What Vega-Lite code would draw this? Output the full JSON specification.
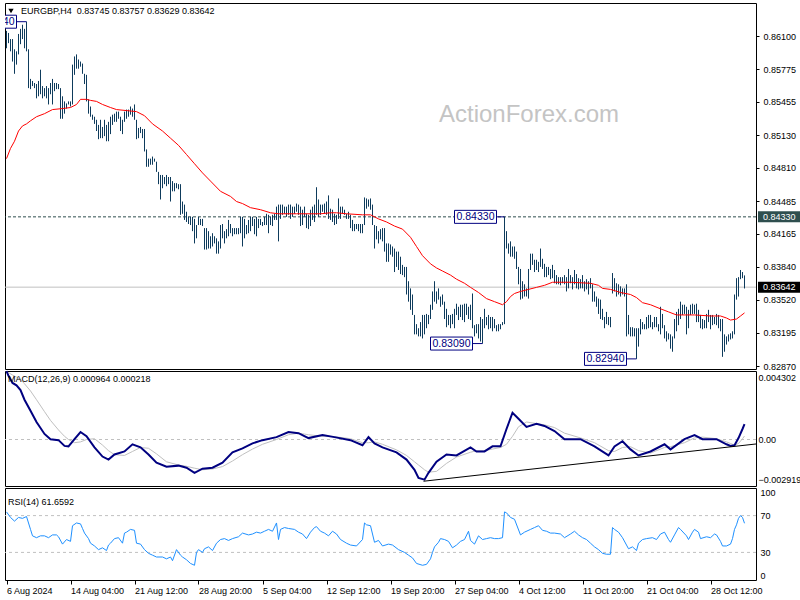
{
"$schema": "https://vega.github.io/schema/vega-lite/v6.json",
"background": "#ffffff",
"padding": {"left": 2, "top": 2, "right": 0, "bottom": 0},
"spacing": 2,
"bounds": "flush",
"config": {
  "view": {"stroke": "#000000", "strokeWidth": 1},
  "axis": {"labelFont": "Liberation Sans", "labelFontSize": 9, "labelColor": "#000000", "tickColor": "#000000", "tickSize": 3, "domain": false, "grid": false, "labelPadding": 4},
  "text": {"font": "Liberation Sans"}
},
"vconcat": [
{
  "width": 751, "height": 366,
  "resolve": {"axis": {"x": "independent", "y": "independent"}},
  "layer": [
    {"data": {"values": [{"lv": 0.83642}]}, "mark": {"type": "rule", "color": "#c0c0c0", "strokeWidth": 1},
     "encoding": {"y": {"field": "lv", "type": "quantitative", "axis": null}}},
    {"data": {"values": [{"lv": 0.8433}]}, "mark": {"type": "rule", "color": "#2f4f4f", "strokeWidth": 1, "strokeDash": [3, 2]},
     "encoding": {"y": {"field": "lv", "type": "quantitative", "axis": null}}},
    {"data": {"values": [{}]}, "mark": {"type": "text", "fontSize": 24, "color": "#c4c4c4", "align": "center", "baseline": "alphabetic", "font": "Liberation Sans"},
     "encoding": {"x": {"datum": 261.25, "type": "quantitative", "axis": null}, "y": {"datum": 0.85258, "type": "quantitative", "axis": null}, "text": {"value": "ActionForex.com"}}},
    {"data": {"values": "i,h,l\n0,0.8615,0.8598\n1,0.8613,0.8603\n2,0.8607,0.8595\n3,0.8607,0.8585\n4,0.8597,0.8573\n5,0.8595,0.8582\n6,0.8612,0.8592\n7,0.8617,0.8602\n8,0.8621,0.8607\n9,0.8617,0.8598\n10,0.8624,0.8595\n11,0.8597,0.8559\n12,0.8568,0.8558\n13,0.8566,0.8561\n14,0.8564,0.8559\n15,0.8563,0.8549\n16,0.8566,0.8551\n17,0.8577,0.8553\n18,0.8561,0.8549\n19,0.8559,0.8551\n20,0.8561,0.8549\n21,0.8559,0.8543\n22,0.8564,0.8553\n23,0.8568,0.8543\n24,0.8564,0.8556\n25,0.8564,0.8558\n26,0.8563,0.8558\n27,0.8559,0.8529\n28,0.8551,0.8529\n29,0.8546,0.8534\n30,0.8544,0.8539\n31,0.8546,0.8543\n32,0.8546,0.8541\n33,0.8582,0.8543\n34,0.8590,0.8572\n35,0.8592,0.8578\n36,0.8587,0.8578\n37,0.8585,0.8580\n38,0.8583,0.8573\n39,0.8573,0.8563\n40,0.8572,0.8546\n41,0.8548,0.8534\n42,0.8541,0.8531\n43,0.8533,0.8528\n44,0.8531,0.8524\n45,0.8528,0.8517\n46,0.8523,0.8509\n47,0.8528,0.8510\n48,0.8521,0.8510\n49,0.8528,0.8512\n50,0.8523,0.8507\n51,0.8526,0.8507\n52,0.8531,0.8514\n53,0.8533,0.8523\n54,0.8534,0.8526\n55,0.8536,0.8526\n56,0.8536,0.8529\n57,0.8531,0.8517\n58,0.8528,0.8514\n59,0.8536,0.8526\n60,0.8538,0.8529\n61,0.8538,0.8531\n62,0.8541,0.8533\n63,0.8539,0.8531\n64,0.8543,0.8528\n65,0.8528,0.8509\n66,0.8520,0.8510\n67,0.8521,0.8515\n68,0.8519,0.8510\n69,0.8519,0.8497\n70,0.8499,0.8482\n71,0.8490,0.8482\n72,0.8490,0.8484\n73,0.8492,0.8484\n74,0.8490,0.8487\n75,0.8487,0.8477\n76,0.8477,0.8465\n77,0.8474,0.8450\n78,0.8474,0.8461\n79,0.8472,0.8465\n80,0.8474,0.8463\n81,0.8472,0.8465\n82,0.8472,0.8448\n83,0.8468,0.8458\n84,0.8466,0.8458\n85,0.8466,0.8461\n86,0.8465,0.8460\n87,0.8465,0.8435\n88,0.8448,0.8436\n89,0.8445,0.8430\n90,0.8438,0.8428\n91,0.8433,0.8426\n92,0.8433,0.8425\n93,0.8433,0.8419\n94,0.8431,0.8407\n95,0.8425,0.8412\n96,0.8433,0.8425\n97,0.8431,0.8425\n98,0.8431,0.8424\n99,0.8422,0.8401\n100,0.8422,0.8401\n101,0.8419,0.8402\n102,0.8414,0.8402\n103,0.8417,0.8404\n104,0.8414,0.8407\n105,0.8412,0.8397\n106,0.8409,0.8397\n107,0.8425,0.8402\n108,0.8426,0.8412\n109,0.8419,0.8407\n110,0.8421,0.8412\n111,0.8430,0.8414\n112,0.8426,0.8417\n113,0.8422,0.8414\n114,0.8422,0.8416\n115,0.8422,0.8416\n116,0.8422,0.8416\n117,0.8433,0.8417\n118,0.8433,0.8404\n119,0.8431,0.8412\n120,0.8425,0.8416\n121,0.8430,0.8417\n122,0.8433,0.8419\n123,0.8433,0.8424\n124,0.8431,0.8416\n125,0.8433,0.8414\n126,0.8431,0.8422\n127,0.8431,0.8425\n128,0.8428,0.8424\n129,0.8433,0.8425\n130,0.8436,0.8425\n131,0.8435,0.8417\n132,0.8433,0.8425\n133,0.8435,0.8424\n134,0.8436,0.8430\n135,0.8443,0.8430\n136,0.8445,0.8409\n137,0.8445,0.8431\n138,0.8445,0.8435\n139,0.8443,0.8436\n140,0.8443,0.8433\n141,0.8445,0.8435\n142,0.8445,0.8431\n143,0.8443,0.8433\n144,0.8443,0.8436\n145,0.8446,0.8438\n146,0.8445,0.8435\n147,0.8443,0.8424\n148,0.8440,0.8425\n149,0.8443,0.8433\n150,0.8436,0.8422\n151,0.8435,0.8421\n152,0.8440,0.8424\n153,0.8443,0.8430\n154,0.8445,0.8428\n155,0.8462,0.8435\n156,0.8450,0.8433\n157,0.8445,0.8435\n158,0.8445,0.8438\n159,0.8446,0.8436\n160,0.8448,0.8435\n161,0.8454,0.8431\n162,0.8441,0.8430\n163,0.8440,0.8428\n164,0.8436,0.8425\n165,0.8435,0.8426\n166,0.8451,0.8431\n167,0.8443,0.8431\n168,0.8443,0.8436\n169,0.8440,0.8435\n170,0.8436,0.8431\n171,0.8438,0.8431\n172,0.8435,0.8422\n173,0.8430,0.8419\n174,0.8426,0.8419\n175,0.8426,0.8421\n176,0.8426,0.8419\n177,0.8426,0.8417\n178,0.8426,0.8417\n179,0.8452,0.8425\n180,0.8451,0.8441\n181,0.8450,0.8443\n182,0.8451,0.8440\n183,0.8445,0.8425\n184,0.8425,0.8402\n185,0.8424,0.8411\n186,0.8419,0.8407\n187,0.8421,0.8411\n188,0.8422,0.8409\n189,0.8422,0.8399\n190,0.8407,0.8389\n191,0.8407,0.8389\n192,0.8406,0.8396\n193,0.8404,0.8394\n194,0.8402,0.8379\n195,0.8399,0.8384\n196,0.8399,0.8381\n197,0.8394,0.8377\n198,0.8386,0.8376\n199,0.8384,0.8374\n200,0.8384,0.8357\n201,0.8370,0.8350\n202,0.8363,0.8342\n203,0.8357,0.8337\n204,0.8337,0.8318\n205,0.8328,0.8318\n206,0.8324,0.8316\n207,0.8330,0.8316\n208,0.8337,0.8314\n209,0.8337,0.8318\n210,0.8338,0.8324\n211,0.8337,0.8328\n212,0.8347,0.8333\n213,0.8360,0.8342\n214,0.8370,0.8350\n215,0.8360,0.8348\n216,0.8363,0.8352\n217,0.8355,0.8345\n218,0.8357,0.8347\n219,0.8350,0.8333\n220,0.8343,0.8325\n221,0.8337,0.8327\n222,0.8337,0.8324\n223,0.8338,0.8328\n224,0.8343,0.8324\n225,0.8348,0.8337\n226,0.8345,0.8332\n227,0.8347,0.8335\n228,0.8347,0.8332\n229,0.8348,0.8330\n230,0.8348,0.8337\n231,0.8345,0.8333\n232,0.8347,0.8332\n233,0.8358,0.8324\n234,0.8327,0.8316\n235,0.8328,0.8319\n236,0.8328,0.8314\n237,0.8335,0.8311\n238,0.8333,0.8309\n239,0.8343,0.8324\n240,0.8335,0.8327\n241,0.8337,0.8323\n242,0.8335,0.8324\n243,0.8335,0.8321\n244,0.8333,0.8324\n245,0.8327,0.8321\n246,0.8328,0.8321\n247,0.8328,0.8323\n248,0.8330,0.8327\n249,0.8433,0.8328\n250,0.8419,0.8402\n251,0.8407,0.8397\n252,0.8409,0.8394\n253,0.8404,0.8394\n254,0.8404,0.8392\n255,0.8399,0.8382\n256,0.8384,0.8367\n257,0.8382,0.8352\n258,0.8370,0.8353\n259,0.8367,0.8355\n260,0.8363,0.8355\n261,0.8382,0.8353\n262,0.8397,0.8381\n263,0.8397,0.8386\n264,0.8391,0.8379\n265,0.8391,0.8381\n266,0.8389,0.8379\n267,0.8402,0.8384\n268,0.8392,0.8382\n269,0.8387,0.8374\n270,0.8384,0.8374\n271,0.8384,0.8376\n272,0.8382,0.8372\n273,0.8386,0.8373\n274,0.8381,0.8368\n275,0.8376,0.8367\n276,0.8374,0.8367\n277,0.8374,0.8366\n278,0.8374,0.8368\n279,0.8376,0.8367\n280,0.8374,0.8360\n281,0.8382,0.8363\n282,0.8376,0.8368\n283,0.8374,0.8362\n284,0.8381,0.8367\n285,0.8377,0.8363\n286,0.8373,0.8362\n287,0.8372,0.8363\n288,0.8376,0.8363\n289,0.8370,0.8360\n290,0.8372,0.8362\n291,0.8370,0.8357\n292,0.8373,0.8363\n293,0.8367,0.8350\n294,0.8360,0.8350\n295,0.8355,0.8345\n296,0.8353,0.8338\n297,0.8352,0.8333\n298,0.8343,0.8332\n299,0.8335,0.8324\n300,0.8340,0.8328\n301,0.8335,0.8327\n302,0.8335,0.8325\n303,0.8378,0.8358\n304,0.8373,0.8360\n305,0.8368,0.8355\n306,0.8367,0.8357\n307,0.8365,0.8355\n308,0.8363,0.8357\n309,0.8363,0.8355\n310,0.8367,0.8316\n311,0.8337,0.8318\n312,0.8325,0.8316\n313,0.8325,0.8316\n314,0.8324,0.8316\n315,0.8324,0.8294\n316,0.8324,0.8306\n317,0.8333,0.8318\n318,0.8330,0.8323\n319,0.8328,0.8323\n320,0.8335,0.8323\n321,0.8337,0.8324\n322,0.8337,0.8325\n323,0.8330,0.8323\n324,0.8335,0.8325\n325,0.8335,0.8325\n326,0.8328,0.8321\n327,0.8345,0.8318\n328,0.8338,0.8324\n329,0.8327,0.8314\n330,0.8321,0.8311\n331,0.8319,0.8313\n332,0.8318,0.8304\n333,0.8316,0.8301\n334,0.8333,0.8314\n335,0.8340,0.8321\n336,0.8343,0.8327\n337,0.8350,0.8333\n338,0.8347,0.8337\n339,0.8347,0.8338\n340,0.8345,0.8318\n341,0.8342,0.8324\n342,0.8347,0.8337\n343,0.8348,0.8338\n344,0.8347,0.8338\n345,0.8348,0.8330\n346,0.8342,0.8330\n347,0.8337,0.8324\n348,0.8333,0.8323\n349,0.8332,0.8324\n350,0.8338,0.8324\n351,0.8342,0.8330\n352,0.8337,0.8323\n353,0.8337,0.8327\n354,0.8335,0.8328\n355,0.8338,0.8327\n356,0.8337,0.8324\n357,0.8333,0.8321\n358,0.8333,0.8296\n359,0.8318,0.8301\n360,0.8316,0.8308\n361,0.8318,0.8311\n362,0.8319,0.8313\n363,0.8321,0.8314\n364,0.8357,0.8318\n365,0.8373,0.8352\n366,0.8374,0.8355\n367,0.8381,0.8372\n368,0.8379,0.8373\n369,0.83757,0.83629", "format": {"type": "csv", "parse": {"i": "number", "h": "number", "l": "number"}}},
     "mark": {"type": "rule", "color": "#0e3b5c", "strokeWidth": 1},
     "encoding": {
       "x": {"field": "i", "type": "quantitative", "scale": {"domain": [-0.75, 374.75], "nice": false, "zero": false}, "axis": null},
       "y": {"field": "l", "type": "quantitative", "scale": {"domain": [0.82841, 0.86423], "nice": false, "zero": false},
             "axis": {"orient": "right", "values": [0.861, 0.85775, 0.85455, 0.8513, 0.8481, 0.84485, 0.84165, 0.8384, 0.8352, 0.83195, 0.8287], "format": ".5f", "tickSize": 3, "labelPadding": 4, "title": null}},
       "y2": {"field": "h"}
     }},
    {"data": {"values": "i,m\n0,0.8490\n2,0.8500\n4,0.8507\n6,0.8517\n8,0.8522\n10,0.8524\n12,0.8527\n15,0.8531\n19,0.8534\n23,0.8538\n28,0.8539\n32,0.8540\n35,0.8543\n37,0.8548\n40,0.8548\n42,0.8547\n45,0.8546\n48,0.8543\n52,0.8540\n55,0.8538\n60,0.8537\n65,0.8536\n69,0.8532\n73,0.8524\n78,0.8517\n82,0.8510\n86,0.8503\n90,0.8494\n94,0.8485\n98,0.8476\n102,0.8468\n107,0.8458\n112,0.8453\n115,0.8448\n118,0.8446\n122,0.8442\n127,0.8440\n132,0.8437\n136,0.8436\n145,0.8436\n157,0.8436\n162,0.8437\n165,0.8437\n170,0.8436\n178,0.8435\n182,0.8435\n186,0.8431\n190,0.8428\n194,0.8424\n198,0.8421\n202,0.8413\n205,0.8404\n208,0.8395\n212,0.8387\n215,0.8383\n218,0.8380\n222,0.8376\n225,0.8372\n229,0.8368\n232,0.8364\n236,0.8359\n240,0.8353\n244,0.8350\n248,0.8347\n250,0.8350\n252,0.8355\n254,0.8358\n257,0.8360\n261,0.8362\n265,0.8364\n269,0.8366\n273,0.8369\n282,0.8369\n292,0.8368\n296,0.8366\n298,0.8363\n302,0.8362\n307,0.8359\n312,0.8357\n315,0.8354\n318,0.8349\n322,0.8347\n327,0.8343\n331,0.8340\n335,0.8337\n344,0.8337\n352,0.8336\n357,0.8336\n360,0.8334\n362,0.8332\n365,0.8333\n367,0.8336\n369,0.8339", "format": {"type": "csv", "parse": {"i": "number", "m": "number"}}},
     "mark": {"type": "line", "color": "#ff0000", "strokeWidth": 1},
     "encoding": {"x": {"field": "i", "type": "quantitative", "axis": null}, "y": {"field": "m", "type": "quantitative", "axis": null}}},
    {"data": {"values": [
        {"lv": 0.8433, "x1": 224, "x2": 245, "b": 249, "t": "0.84330"},
        {"lv": 0.8309, "x1": 212, "x2": 233, "b": 238, "t": "0.83090"},
        {"lv": 0.8294, "x1": 289, "x2": 310, "b": 315, "t": "0.82940"},
        {"lv": 0.8624, "x1": -16, "x2": 5, "b": 10, "t": "0.86240"}]},
     "resolve": {"axis": {"x": "independent", "y": "independent"}},
     "layer": [
       {"mark": {"type": "rule", "color": "#000080", "strokeWidth": 1, "clip": true},
        "encoding": {"x": {"field": "x2", "type": "quantitative", "axis": null}, "x2": {"field": "b"}, "y": {"field": "lv", "type": "quantitative", "axis": null}}},
       {"mark": {"type": "rect", "fill": "#ffffff", "stroke": "#000080", "strokeWidth": 1, "clip": true, "yOffset": -6.5, "y2Offset": 6.5},
        "encoding": {"x": {"field": "x1", "type": "quantitative", "axis": null}, "x2": {"field": "x2"}, "y": {"field": "lv", "type": "quantitative", "axis": null}, "y2": {"field": "lv"}}},
       {"mark": {"type": "text", "color": "#000080", "fontSize": 10.5, "align": "center", "baseline": "middle", "dx": 21, "clip": true},
        "encoding": {"x": {"field": "x1", "type": "quantitative", "axis": null}, "y": {"field": "lv", "type": "quantitative", "axis": null}, "text": {"field": "t"}}}
     ]},
    {"data": {"values": [{}]}, "mark": {"type": "point", "shape": "triangle-down", "filled": true, "color": "#000000", "size": 28, "opacity": 1},
     "encoding": {"x": {"datum": 2.25, "type": "quantitative", "axis": null}, "y": {"datum": 0.86345, "type": "quantitative", "axis": null}}},
    {"data": {"values": [{}]}, "mark": {"type": "text", "color": "#000000", "fontSize": 9, "align": "left", "baseline": "middle"},
     "encoding": {"x": {"datum": 7.25, "type": "quantitative", "axis": null}, "y": {"datum": 0.86345, "type": "quantitative", "axis": null}, "text": {"value": "EURGBP,H4 \u00a00.83745 0.83757 0.83629 0.83642"}}},
    {"data": {"values": [{"lv": 0.8433, "k": "level"}, {"lv": 0.83642, "k": "bid"}]},
     "resolve": {"axis": {"x": "independent", "y": "independent"}},
     "layer": [
       {"mark": {"type": "rect", "xOffset": 2, "x2Offset": 44, "yOffset": -5.5, "y2Offset": 5.5},
        "encoding": {"x": {"datum": 374.75, "type": "quantitative", "axis": null}, "x2": {"datum": 374.75}, "y": {"field": "lv", "type": "quantitative", "axis": null}, "y2": {"field": "lv"},
                     "color": {"field": "k", "type": "nominal", "scale": {"domain": ["level", "bid"], "range": ["#2f4f4f", "#000000"]}, "legend": null}}},
       {"mark": {"type": "text", "color": "#ffffff", "fontSize": 9, "align": "left", "baseline": "middle", "dx": 7},
        "encoding": {"x": {"datum": 374.75, "type": "quantitative", "axis": null}, "y": {"field": "lv", "type": "quantitative", "axis": null}, "text": {"field": "lv", "type": "quantitative", "format": ".5f"}}}
     ]}
  ]
},
{
  "width": 751, "height": 115,
  "resolve": {"axis": {"x": "independent", "y": "independent"}},
  "layer": [
    {"data": {"values": [{}]}, "mark": {"type": "rule", "color": "#c0c0c0", "strokeWidth": 1, "strokeDash": [3, 3]},
     "encoding": {"y": {"datum": 0, "type": "quantitative", "axis": null}}},
    {"data": {"values": "i,d,s\n0,0.00430,0.00425\n1,0.00400,0.00420\n3,0.00355,0.00405\n5,0.00340,0.00392\n7,0.00310,0.00378\n9,0.00250,0.00350\n12,0.00180,0.00305\n15,0.00110,0.00250\n19,0.00035,0.00175\n22,0.00002,0.00120\n26,-0.00004,0.00060\n29,-0.00040,0.00020\n31,-0.00043,0.00000\n34,0.00002,-0.00020\n37,0.00047,-0.00015\n40,0.00021,0.00000\n44,-0.00049,0.00005\n48,-0.00107,-0.00035\n51,-0.00126,-0.00070\n54,-0.00094,-0.00095\n59,-0.00075,-0.00100\n63,-0.00030,-0.00075\n67,-0.00049,-0.00050\n71,-0.00094,-0.00055\n75,-0.00145,-0.00090\n80,-0.00171,-0.00140\n86,-0.00164,-0.00160\n90,-0.00177,-0.00168\n94,-0.00209,-0.00180\n98,-0.00183,-0.00190\n103,-0.00177,-0.00185\n108,-0.00145,-0.00170\n113,-0.00081,-0.00135\n118,-0.00056,-0.00095\n123,-0.00024,-0.00060\n128,-0.00004,-0.00030\n135,0.00015,0.00000\n141,0.00047,0.00030\n146,0.00040,0.00040\n151,0.00009,0.00030\n158,0.00028,0.00020\n164,0.00015,0.00018\n172,-0.00004,0.00005\n178,-0.00036,-0.00020\n181,0.00015,-0.00020\n184,-0.00024,-0.00015\n188,-0.00049,-0.00030\n195,-0.00081,-0.00065\n200,-0.00126,-0.00100\n204,-0.00190,-0.00140\n206,-0.00241,-0.00160\n209,-0.00252,-0.00190\n211,-0.00209,-0.00205\n215,-0.00139,-0.00200\n220,-0.00094,-0.00150\n225,-0.00100,-0.00110\n232,-0.00049,-0.00080\n235,-0.00075,-0.00070\n239,-0.00075,-0.00070\n243,-0.00043,-0.00060\n247,-0.00043,-0.00050\n250,0.00066,-0.00030\n253,0.00168,0.00020\n256,0.00130,0.00080\n260,0.00079,0.00110\n265,0.00098,0.00100\n269,0.00085,0.00092\n274,0.00053,0.00075\n279,0.00002,0.00040\n287,0.00002,0.00010\n294,-0.00043,-0.00020\n301,-0.00100,-0.00070\n304,-0.00043,-0.00075\n308,-0.00011,-0.00050\n312,-0.00062,-0.00045\n316,-0.00100,-0.00070\n322,-0.00075,-0.00085\n329,-0.00030,-0.00050\n332,-0.00062,-0.00045\n339,0.00002,-0.00020\n344,0.00028,0.00010\n348,0.00002,0.00015\n355,0.00002,0.00005\n360,-0.00030,-0.00015\n362,-0.00040,-0.00025\n364,-0.00036,-0.00035\n366,0.00009,-0.00025\n368,0.00066,0.00005\n369,0.000964,0.000218", "format": {"type": "csv", "parse": {"i": "number", "d": "number", "s": "number"}}},
     "resolve": {"axis": {"x": "independent", "y": "independent"}},
     "layer": [
       {"mark": {"type": "line", "color": "#c0c0c0", "strokeWidth": 1},
        "encoding": {"x": {"field": "i", "type": "quantitative", "scale": {"domain": [-0.75, 374.75], "nice": false, "zero": false}, "axis": null},
                     "y": {"field": "s", "type": "quantitative", "scale": {"domain": [-0.002919, 0.004302], "nice": false, "zero": false},
                           "axis": {"orient": "right", "values": [-0.002919, 0, 0.004302], "labelExpr": "datum.value == 0 ? '0.00' : format(datum.value, '.6f')", "tickSize": 0, "labelPadding": 2, "labelFlush": true, "labelFlushOffset": -2, "title": null}}}},
       {"mark": {"type": "line", "color": "#000080", "strokeWidth": 2},
        "encoding": {"x": {"field": "i", "type": "quantitative", "axis": null}, "y": {"field": "d", "type": "quantitative", "axis": null}}}
     ]},
    {"data": {"values": [{}]}, "mark": {"type": "rule", "color": "#000000", "strokeWidth": 1},
     "encoding": {"x": {"datum": 208.5, "type": "quantitative", "axis": null}, "x2": {"datum": 374.75}, "y": {"datum": -0.00262, "type": "quantitative", "axis": null}, "y2": {"datum": -0.00028}}},
    {"data": {"values": [{}]}, "mark": {"type": "text", "color": "#000000", "fontSize": 9, "align": "left", "baseline": "middle"},
     "encoding": {"x": {"datum": 0.75, "type": "quantitative", "axis": null}, "y": {"datum": 0.0038, "type": "quantitative", "axis": null}, "text": {"value": "MACD(12,26,9) 0.000964 0.000218"}}}
  ]
},
{
  "width": 751, "height": 92,
  "resolve": {"axis": {"x": "independent", "y": "independent"}},
  "layer": [
    {"data": {"values": [{"v": 30}, {"v": 70}]}, "mark": {"type": "rule", "color": "#c0c0c0", "strokeWidth": 1, "strokeDash": [3, 3]},
     "encoding": {"y": {"field": "v", "type": "quantitative", "axis": null}}},
    {"data": {"values": "i,r\n0,74\n2,68\n4,64\n6,68\n8,67\n10,69\n12,55\n13,48\n15,46\n17,48\n19,48\n21,46\n23,49\n25,49\n26,47\n28,39\n30,44\n32,42\n33,59\n35,62\n37,61\n38,56\n39,51\n41,45\n42,40\n44,37\n46,33\n48,35\n50,32\n51,38\n52,40\n54,45\n56,46\n58,40\n59,51\n60,52\n62,55\n64,54\n65,40\n67,39\n69,33\n71,29\n73,27\n75,25\n78,25\n80,23\n82,25\n83,21\n85,33\n87,27\n88,25\n90,22\n92,18\n94,16\n95,30\n96,33\n98,30\n99,34\n101,36\n103,32\n105,40\n107,44\n109,45\n111,43\n113,45\n116,47\n118,51\n121,49\n123,50\n125,52\n127,51\n129,53\n131,55\n133,53\n135,62\n136,44\n137,55\n139,57\n141,56\n144,55\n146,52\n148,50\n150,45\n152,52\n154,57\n155,58\n157,53\n159,51\n161,48\n163,53\n165,50\n167,44\n170,40\n172,38\n175,37\n178,44\n179,62\n180,60\n182,59\n184,41\n186,43\n188,37\n191,39\n193,38\n196,33\n199,30\n201,27\n203,24\n205,18\n208,16\n210,17\n212,23\n213,30\n214,36\n216,41\n217,45\n219,44\n221,42\n223,35\n225,38\n227,42\n229,44\n231,53\n232,43\n234,39\n236,48\n238,44\n240,45\n242,46\n244,45\n246,45\n248,46\n249,74\n250,73\n252,68\n254,66\n257,49\n259,52\n262,55\n264,57\n266,59\n268,54\n270,53\n272,51\n274,51\n277,50\n279,46\n282,50\n284,53\n286,49\n288,46\n290,44\n292,40\n294,36\n296,33\n298,29\n300,28\n302,28\n303,57\n304,55\n306,52\n308,46\n310,38\n311,34\n313,36\n315,32\n316,40\n318,44\n320,45\n323,46\n325,44\n327,50\n329,52\n331,44\n332,41\n334,49\n336,57\n337,55\n340,48\n341,44\n343,52\n344,55\n346,52\n347,45\n350,47\n352,46\n354,50\n355,49\n357,42\n358,37\n360,37\n362,39\n363,45\n364,55\n365,60\n366,67\n367,70\n368,68\n369,61.6592", "format": {"type": "csv", "parse": {"i": "number", "r": "number"}}},
     "mark": {"type": "line", "color": "#1e90ff", "strokeWidth": 1},
     "encoding": {
       "x": {"field": "i", "type": "quantitative", "scale": {"domain": [-0.75, 374.75], "nice": false, "zero": false},
             "axis": {"orient": "bottom", "values": [0, 32, 64, 96, 128, 160, 192, 224, 256, 288, 320, 352], "labelExpr": "['6 Aug 2024','14 Aug 04:00','21 Aug 12:00','28 Aug 20:00','5 Sep 04:00','12 Sep 12:00','19 Sep 20:00','27 Sep 04:00','4 Oct 12:00','11 Oct 20:00','21 Oct 04:00','28 Oct 12:00'][round(datum.value/32)]", "labelAlign": "left", "labelPadding": 2, "tickSize": 4, "labelOverlap": false, "labelFlush": false, "title": null}},
       "y": {"field": "r", "type": "quantitative", "scale": {"domain": [0, 100], "nice": false, "zero": false},
             "axis": {"orient": "right", "values": [0, 30, 70, 100], "tickSize": 0, "labelPadding": 4, "labelFlush": true, "title": null}}
     }},
    {"data": {"values": [{}]}, "mark": {"type": "text", "color": "#000000", "fontSize": 9, "align": "left", "baseline": "middle"},
     "encoding": {"x": {"datum": 0.75, "type": "quantitative", "axis": null}, "y": {"datum": 85, "type": "quantitative", "axis": null}, "text": {"value": "RSI(14) 61.6592"}}}
  ]
}
]
}
